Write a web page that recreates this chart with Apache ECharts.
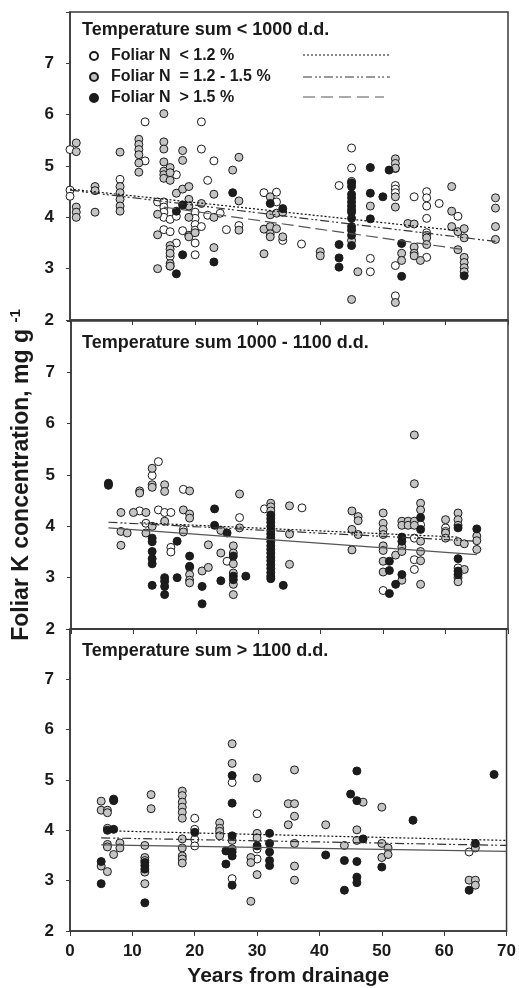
<!DOCTYPE html>
<html>
<head>
<meta charset="utf-8">
<script src="https://cdn.jsdelivr.net/npm/echarts@6/dist/echarts.min.js"></script>
<style>
  html, body { margin: 0; padding: 0; background: #fff; }
  #pic1 { width: 519px; height: 988px; }
</style>
</head>
<body>
<div id="pic1"></div>
<script>
// panel titles and legend names
var panelTitles = ['Temperature sum < 1000 d.d.', 'Temperature sum 1000 - 1100 d.d.', 'Temperature sum > 1100 d.d.'];
var groupNames = ['Foliar N  < 1.2 %', 'Foliar N  = 1.2 - 1.5 %', 'Foliar N  > 1.5 %'];
var xTicks = [0, 10, 20, 30, 40, 50, 60, 70];
var yTicks = [2, 3, 4, 5, 6, 7];

// panel 1: < 1000 d.d.  [years, K]
var p1White = [[0,5.32],[0,4.53],[0,4.41],[8,4.74],[12,5.86],[12,5.1],[14,4.3],[15,4.3],[15,4.2],[15,4.1],[15,4.0],[15,3.76],
  [16,3.96],[16,3.72],[16,3.24],[16,3.05],[17,4.83],[17,4.02],[17,3.5],[18,3.74],[20,4.1],[20,3.98],[20,3.86],[20,3.75],
  [20,3.5],[20,3.27],[21,5.86],[21,5.33],[21,3.82],[22,4.72],[22,4.04],[23,5.1],[24,4.08],[25,3.76],[27,3.84],[31,4.48],
  [33,4.49],[33,4.3],[34,3.55],[37,3.48],[43,4.62],[45,5.35],[45,4.96],[48,3.2],[48,2.94],[52,4.95],[52,4.62],[52,4.55],
  [52,4.48],[52,3.06],[52,2.47],[55,4.4],[57,4.5],[57,4.38],[57,4.22],[57,3.98],[57,3.7],[57,3.65],[57,3.22],[59,4.27],[62,4.02]];
var p1Gray = [[1,5.45],[1,5.28],[1,4.2],[1,4.1],[1,4.0],[4,4.6],[4,4.52],[4,4.1],[8,5.27],[8,4.6],[8,4.48],[8,4.35],[8,4.22],
  [8,4.12],[11,5.52],[11,5.42],[11,5.32],[11,5.22],[11,5.06],[11,4.88],[14,4.06],[14,3.66],[14,3.0],[15,6.02],[15,5.47],
  [15,5.33],[15,5.08],[15,4.9],[15,4.83],[15,4.76],[16,4.97],[16,4.87],[16,4.72],[16,3.45],[16,3.38],[16,3.3],[16,3.1],
  [16,3.05],[17,4.47],[18,5.3],[18,5.11],[18,4.55],[19,4.6],[19,4.35],[19,4.22],[19,4.0],[19,3.65],[19,3.62],[20,3.7],
  [21,4.27],[23,4.45],[23,4.0],[23,3.41],[26,4.92],[27,5.17],[27,4.32],[27,3.75],[31,3.77],[31,3.29],[32,4.4],[32,4.05],
  [32,3.82],[32,3.68],[32,3.62],[33,4.08],[33,3.78],[34,4.1],[34,3.62],[40,3.33],[40,3.25],[45,4.7],[45,3.55],[45,2.4],
  [46,2.94],[48,4.22],[52,5.14],[52,5.05],[52,4.96],[52,4.4],[52,4.2],[52,2.34],[53,3.3],[53,3.16],[54,3.88],[55,3.87],
  [55,3.42],[55,3.3],[55,3.25],[56,3.16],[57,3.6],[57,3.47],[61,4.6],[61,4.12],[61,3.82],[62,3.72],[62,3.37],[63,3.78],
  [63,3.6],[63,3.22],[63,3.12],[63,3.02],[63,2.94],[68,4.38],[68,4.18],[68,3.82],[68,3.57]];
var p1Black = [[17,4.12],[17,2.9],[18,4.24],[18,3.27],[23,3.13],[26,4.48],[32,4.27],[34,4.17],[43,3.47],[43,3.21],[43,3.03],
  [45,4.67],[45,4.6],[45,4.45],[45,4.38],[45,4.3],[45,4.22],[45,4.15],[45,4.1],[45,3.98],[45,3.82],[45,3.75],[45,3.65],
  [45,3.45],[48,4.97],[48,4.47],[48,3.97],[50,4.4],[51,4.92],[53,3.49],[53,2.85],[63,2.86]];
var p1FitWhite = [[0,4.55],[62,3.74]];
var p1FitGray = [[0,4.53],[68,3.53]];
var p1FitBlack = [[15,4.2],[63,3.37]];

// panel 2: 1000 - 1100 d.d.
var p2White = [[11,4.3],[12,4.06],[13,4.99],[14,5.26],[14,4.32],[15,4.27],[16,4.27],[16,3.59],[16,3.5],[18,4.72],[18,3.94],
  [25,3.32],[27,4.17],[31,4.34],[37,4.36],[50,2.75],[55,3.77],[55,3.35],[55,3.16],[56,4.03],[60,3.97],[60,3.9],[62,3.19]];
var p2Gray = [[8,4.27],[8,3.9],[8,3.63],[9,3.87],[10,4.27],[11,4.69],[11,4.65],[12,4.27],[12,3.87],[13,5.13],[13,4.81],
  [13,4.76],[13,4.0],[15,4.81],[15,4.68],[15,4.1],[18,4.32],[18,3.89],[19,4.69],[19,4.24],[19,4.16],[19,3.2],[19,3.06],
  [19,2.95],[19,2.9],[21,3.13],[22,3.2],[22,3.64],[24,3.92],[24,3.48],[26,3.62],[26,3.48],[26,3.27],[26,3.09],[26,2.87],
  [26,2.67],[27,4.63],[27,3.97],[32,4.45],[32,4.38],[32,4.3],[35,4.4],[35,3.85],[35,3.26],[45,4.3],[45,3.94],[45,3.54],
  [46,4.19],[46,4.11],[46,3.84],[50,4.26],[50,4.06],[50,3.94],[50,3.84],[50,3.62],[50,3.53],[50,3.32],[50,3.11],[52,3.44],
  [53,4.1],[53,4.02],[53,3.6],[53,3.51],[53,2.95],[54,4.1],[54,4.02],[55,5.78],[55,4.83],[55,4.1],[55,4.02],[56,4.45],
  [56,4.32],[56,3.71],[56,3.51],[56,3.33],[56,2.87],[60,4.13],[60,3.87],[60,3.77],[62,4.26],[62,4.13],[62,4.02],[62,3.7],
  [62,3.0],[62,2.92],[63,3.66],[63,3.16],[65,3.81],[65,3.72],[65,3.55]];
var p2Black = [[6,4.84],[6,4.8],[13,3.77],[13,3.7],[13,3.51],[13,3.37],[13,3.27],[13,2.85],[15,3.0],[15,2.93],[15,2.83],
  [15,2.67],[17,3.71],[17,3.0],[19,3.42],[19,3.22],[21,2.83],[21,2.49],[23,4.34],[23,4.02],[24,2.94],[25,3.87],[26,3.42],
  [26,3.03],[26,2.96],[28,3.03],[32,4.22],[32,4.15],[32,4.08],[32,4.0],[32,3.92],[32,3.85],[32,3.78],[32,3.7],[32,3.62],
  [32,3.55],[32,3.48],[32,3.4],[32,3.33],[32,3.25],[32,3.18],[32,3.1],[32,3.03],[32,2.98],[34,2.85],[51,3.32],[51,3.14],
  [51,2.69],[52,2.87],[53,3.79],[53,3.71],[53,3.06],[56,4.17],[56,3.94],[62,3.97],[62,3.37],[62,3.13],[62,3.06],[65,3.95]];
var p2FitWhite = [[11,4.07],[62,3.79]];
var p2FitGray = [[6,4.08],[65,3.71]];
var p2FitBlack = [[6,3.97],[65,3.45]];

// panel 3: > 1100 d.d.
var p3White = [[20,4.24],[20,4.02],[20,3.82],[20,3.69],[26,4.95],[26,3.04],[30,4.33],[30,3.63],[30,3.43],[64,3.57]];
var p3Gray = [[5,4.58],[5,4.4],[5,3.29],[6,4.4],[6,4.35],[6,4.04],[6,3.72],[6,3.67],[6,3.18],[7,3.52],[8,3.75],[8,3.65],
  [12,3.7],[12,3.46],[12,3.4],[12,3.17],[12,2.94],[13,4.71],[13,4.43],[18,4.78],[18,4.69],[18,4.56],[18,4.46],[18,4.36],
  [18,4.24],[18,3.83],[18,3.65],[18,3.49],[18,3.43],[18,3.35],[24,4.15],[24,4.04],[24,3.98],[24,3.89],[26,5.72],[26,5.33],
  [26,3.8],[26,3.63],[29,3.46],[29,3.36],[29,2.59],[30,5.04],[30,3.94],[30,3.85],[30,3.12],[35,4.53],[35,4.11],[36,5.2],
  [36,4.53],[36,4.28],[36,3.74],[36,3.29],[36,3.01],[41,4.11],[44,3.7],[46,4.01],[46,3.8],[47,4.56],[50,4.46],[50,3.74],
  [50,3.46],[51,3.65],[51,3.52],[64,3.01],[65,3.65],[65,3.01],[65,2.91]];
var p3Black = [[5,3.38],[5,2.94],[6,4.0],[7,4.62],[7,4.59],[7,4.02],[12,3.36],[12,3.3],[12,3.23],[12,2.56],[20,3.96],
  [25,3.59],[25,3.33],[26,5.09],[26,4.54],[26,3.89],[26,3.57],[26,3.49],[26,2.91],[30,3.69],[32,3.94],[32,3.74],[32,3.57],
  [32,3.4],[32,3.3],[41,3.51],[44,3.4],[44,2.81],[45,4.72],[46,5.18],[46,4.59],[46,3.38],[46,3.07],[46,2.96],[47,3.83],
  [50,3.27],[55,4.2],[64,2.81],[65,3.74],[68,5.11]];
var p3FitWhite = [[6,3.99],[70,3.8]];
var p3FitGray = [[5,3.85],[70,3.7]];
var p3FitBlack = [[5,3.71],[70,3.58]];

var panels = [
  { pts: [p1White, p1Gray, p1Black], fits: [p1FitWhite, p1FitGray, p1FitBlack] },
  { pts: [p2White, p2Gray, p2Black], fits: [p2FitWhite, p2FitGray, p2FitBlack] },
  { pts: [p3White, p3Gray, p3Black], fits: [p3FitWhite, p3FitGray, p3FitBlack] }
];

var fontName = 'Liberation Sans';
var dotFill = ['#ffffff', '#c4c4c4', '#1c1c1c'];
var gridTops = [12, 321, 629];
var gridH = 308;

var myChart = echarts.init(document.getElementById('pic1'), null, { renderer: 'canvas' });

var grids = [], xAxes = [], yAxes = [], titles = [], series = [];
gridTops.forEach(function (t, i) {
  grids.push({ left: 70, right: 11, top: t, height: gridH, show: true, borderColor: '#3a3a3a', borderWidth: 1.5 });
  titles.push({ text: panelTitles[i], left: 82, top: t + (i === 0 ? 9 : 13), padding: 0,
    textStyle: { fontFamily: fontName, fontSize: 18, fontWeight: 'bold', color: '#1a1a1a' } });
  xAxes.push({
    type: 'value', gridIndex: i, min: 0, max: 70, interval: 10,
    axisLine: { lineStyle: { color: '#3a3a3a', width: 1.5 } },
    axisTick: { show: true, inside: false, length: 5, lineStyle: { color: '#3a3a3a' } },
    splitLine: { show: false },
    axisLabel: { show: i === 2, margin: 12, fontFamily: fontName, fontSize: 17, fontWeight: 'bold', color: '#1a1a1a' },
    name: i === 2 ? 'Years from drainage' : '', nameLocation: 'middle', nameGap: 35,
    nameTextStyle: { fontFamily: fontName, fontSize: 21, fontWeight: 'bold', color: '#1a1a1a' }
  });
  yAxes.push({
    type: 'value', gridIndex: i, min: 2, max: 8, interval: 1,
    axisLine: { lineStyle: { color: '#3a3a3a', width: 1.5 } },
    axisTick: { show: true, inside: false, length: 4, lineStyle: { color: '#3a3a3a' } },
    splitLine: { show: false },
    axisLabel: { margin: 16, fontFamily: fontName, fontSize: 17, fontWeight: 'bold', color: '#1a1a1a',
      formatter: function (v) { return yTicks.indexOf(v) >= 0 ? String(v) : ''; } },
    name: i === 1 ? 'Foliar K concentration, mg g {sup|-1}' : '', nameLocation: 'middle', nameGap: 36,
    nameTextStyle: { fontFamily: fontName, fontSize: 23, fontWeight: 'bold', color: '#1a1a1a',
      rich: { sup: { fontFamily: fontName, fontSize: 15, fontWeight: 'bold', color: '#1a1a1a', padding: [0, 0, 12, 0] } } }
  });

  panels[i].pts.forEach(function (d, k) {
    series.push({
      name: groupNames[k], type: 'scatter', xAxisIndex: i, yAxisIndex: i, data: d,
      symbol: 'circle', symbolSize: 8, z: 2 + k,
      itemStyle: { color: dotFill[k], borderColor: '#1a1a1a', borderWidth: 1, opacity: 1 }
    });
  });
  var dashes = [[2, 2], [9, 3, 2, 2, 2, 3], i === 0 ? [12, 5] : 'solid'];
  var lineCols = ['#111', '#333', '#555'];
  panels[i].fits.forEach(function (d, k) {
    series.push({
      type: 'line', xAxisIndex: i, yAxisIndex: i, data: d, showSymbol: false, silent: true, z: 6,
      lineStyle: { color: lineCols[k], width: 1.2, type: dashes[k] }
    });
  });
});

var option = {
  animation: false,
  backgroundColor: '#fff',
  title: titles,
  grid: grids,
  xAxis: xAxes,
  yAxis: yAxes,
  legend: {
    data: groupNames, orient: 'vertical', left: 84, top: 43, itemGap: 5,
    itemWidth: 8, itemHeight: 8, selectedMode: false,
    textStyle: { fontFamily: fontName, fontSize: 16, lineHeight: 16, fontWeight: 'bold', color: '#1a1a1a', padding: [0, 0, 0, 8] }
  },
  graphic: [
    { type: 'line', shape: { x1: 303, y1: 55, x2: 390, y2: 55 }, style: { stroke: '#111', lineWidth: 1.2, lineDash: [2, 2] } },
    { type: 'line', shape: { x1: 303, y1: 77, x2: 390, y2: 77 }, style: { stroke: '#333', lineWidth: 1.2, lineDash: [9, 3, 2, 2, 2, 3] } },
    { type: 'line', shape: { x1: 303, y1: 97, x2: 384, y2: 97 }, style: { stroke: '#555', lineWidth: 1.2, lineDash: [12, 6] } }
  ],
  series: series
};

myChart.setOption(option);
</script>
</body>
</html>
